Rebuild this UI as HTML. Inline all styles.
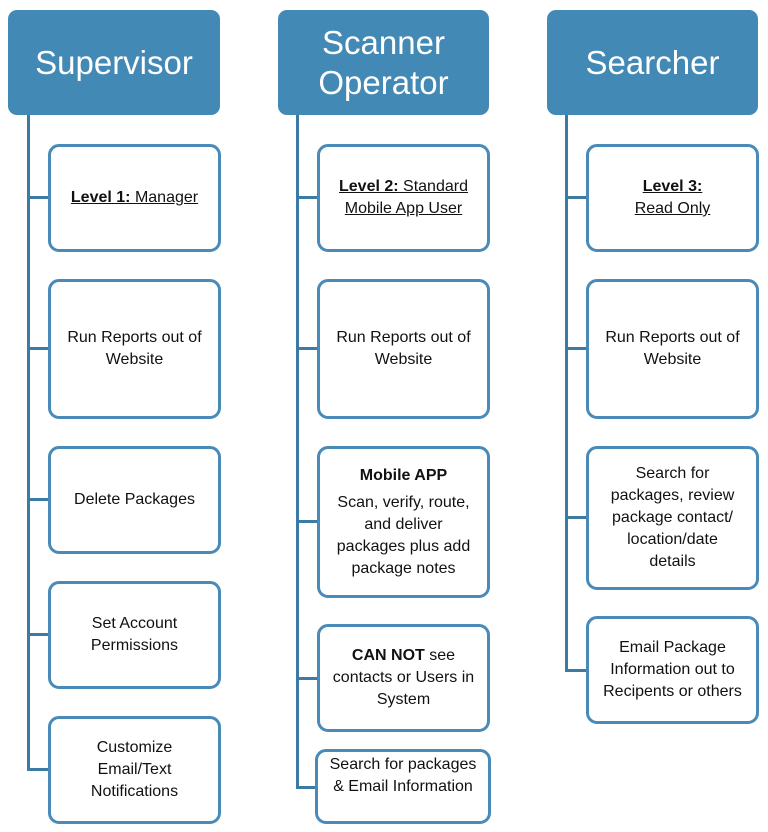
<!DOCTYPE html>
<html><head><meta charset="utf-8"><style>
body{margin:0;width:768px;height:832px;background:#fff;position:relative;overflow:hidden;font-family:"Liberation Sans",sans-serif;}
.h{position:absolute;background:#4389b5;border-radius:9px;color:#fff;font-size:33px;line-height:40px;display:flex;align-items:center;justify-content:center;text-align:center;}
.b{position:absolute;box-sizing:border-box;border:3px solid #4a8ab8;border-radius:11px;background:#fff;display:flex;align-items:center;justify-content:center;flex-direction:column;text-align:center;font-size:16px;line-height:22px;color:#111;width:173px;}
.v{position:absolute;width:3px;background:#3a7aa3;}
.c{position:absolute;height:3px;background:#3a7aa3;width:21px;}
u{text-decoration:underline}
</style></head><body>
<div class="h" style="left:8px;top:10px;width:212px;height:105px">Supervisor</div>
<div class="h" style="left:278px;top:10px;width:211px;height:105px">Scanner<br>Operator</div>
<div class="h" style="left:547px;top:10px;width:211px;height:105px">Searcher</div>

<div class="v" style="left:27px;top:115px;height:656px"></div>
<div class="v" style="left:296px;top:115px;height:674px"></div>
<div class="v" style="left:565px;top:115px;height:556px"></div>

<div class="c" style="left:27px;top:196px"></div>
<div class="c" style="left:27px;top:347px"></div>
<div class="c" style="left:27px;top:498px"></div>
<div class="c" style="left:27px;top:633px"></div>
<div class="c" style="left:27px;top:768px"></div>

<div class="c" style="left:296px;top:196px"></div>
<div class="c" style="left:296px;top:347px"></div>
<div class="c" style="left:296px;top:520px"></div>
<div class="c" style="left:296px;top:677px"></div>
<div class="c" style="left:296px;top:786px"></div>

<div class="c" style="left:565px;top:196px"></div>
<div class="c" style="left:565px;top:347px"></div>
<div class="c" style="left:565px;top:516px"></div>
<div class="c" style="left:565px;top:669px"></div>

<div class="b" style="left:48px;top:144px;height:108px"><div><u><b>Level 1:</b> Manager</u></div></div>
<div class="b" style="left:48px;top:279px;height:140px"><div>Run Reports out of<br>Website</div></div>
<div class="b" style="left:48px;top:446px;height:108px"><div>Delete Packages</div></div>
<div class="b" style="left:48px;top:581px;height:108px"><div>Set Account<br>Permissions</div></div>
<div class="b" style="left:48px;top:716px;height:108px"><div>Customize<br>Email/Text<br>Notifications</div></div>

<div class="b" style="left:317px;top:144px;height:108px"><div><b><u>Level 2:</u></b><u> Standard</u><br><u>Mobile App User</u></div></div>
<div class="b" style="left:317px;top:279px;height:140px"><div>Run Reports out of<br>Website</div></div>
<div class="b" style="left:317px;top:446px;height:152px"><div><b>Mobile APP</b></div><div style="margin-top:5px">Scan, verify, route,<br>and deliver<br>packages plus add<br>package notes</div></div>
<div class="b" style="left:317px;top:624px;height:108px"><div><b>CAN NOT</b> see<br>contacts or Users in<br>System</div></div>
<div class="b" style="left:315px;top:749px;height:75px;width:176px;justify-content:flex-start;padding-top:2px"><div>Search for packages<br>&amp; Email Information</div></div>

<div class="b" style="left:586px;top:144px;height:108px"><div><u><b>Level 3:</b></u><br><u>Read Only</u></div></div>
<div class="b" style="left:586px;top:279px;height:140px"><div>Run Reports out of<br>Website</div></div>
<div class="b" style="left:586px;top:446px;height:144px"><div>Search for<br>packages, review<br>package contact/<br>location/date<br>details</div></div>
<div class="b" style="left:586px;top:616px;height:108px"><div>Email Package<br>Information out to<br>Recipents or others</div></div>
</body></html>
